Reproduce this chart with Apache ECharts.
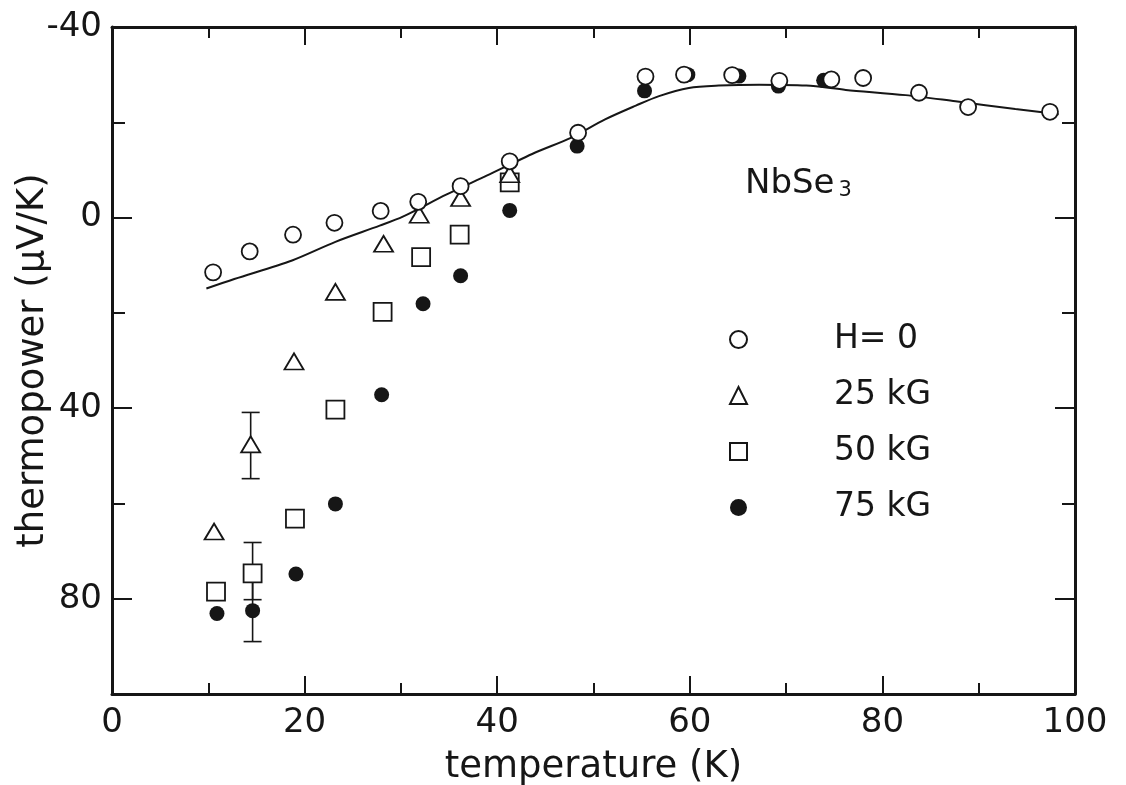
<!DOCTYPE html>
<html>
<head>
<meta charset="utf-8">
<script src="https://cdn.jsdelivr.net/npm/echarts@6/dist/echarts.min.js"></script>
<style>
html,body{margin:0;padding:0;background:#fff;}
#chart{width:1126px;height:785px;}
</style>
</head>
<body>
<div id="chart"></div>
<script>
// ---- data ----
const tempH0  = [10.5, 14.3, 18.8, 23.1, 27.9, 31.8, 36.2, 41.3, 48.4, 55.4, 59.4, 64.4, 69.3, 74.7, 78.0, 83.8, 88.9, 97.4];
const powH0   = [11.5, 7.1, 3.6, 1.1, -1.4, -3.3, -6.6, -11.8, -17.8, -29.6, -30.0, -29.9, -28.7, -29.0, -29.3, -26.2, -23.2, -22.2];
const temp25  = [10.6, 14.4, 18.9, 23.2, 28.2, 31.9, 36.2, 41.3];
const pow25   = [65.9, 47.6, 30.2, 15.6, 5.5, -0.6, -4.1, -9.1];
const temp50  = [10.8, 14.6, 19.0, 23.2, 28.1, 32.1, 36.1, 41.3];
const pow50   = [78.5, 74.7, 63.2, 40.3, 19.8, 8.3, 3.6, -7.4];
const temp75  = [10.9, 14.6, 19.1, 23.2, 28.0, 32.3, 36.2, 41.3, 48.3, 55.3, 59.8, 65.1, 69.2, 73.9];
const pow75   = [83.1, 82.5, 74.8, 60.1, 37.2, 18.1, 12.2, -1.5, -15.0, -26.6, -30.0, -29.7, -27.6, -28.8];
// error bars: [temperature, low, high]
const err25   = [[14.4, 40.9, 54.8]];
const err50   = [[14.6, 68.2, 80.2]];
const err75   = [[14.6, 76.0, 89.0]];
// fitted curve for H = 0
const fitT    = [9.8, 12.7, 18.7, 23.2, 27.8, 30.2, 34.7, 38.9, 43.9, 47.7, 51.2, 54.4, 56.8, 59.9, 63.0, 67.2, 72.1, 76.2, 82.4, 87.6, 93.8, 98.3];
const fitS    = [14.9, 12.9, 9.0, 5.1, 1.7, -0.2, -4.8, -8.8, -13.6, -16.8, -20.6, -23.5, -25.5, -27.2, -27.7, -27.9, -27.7, -26.8, -25.7, -24.4, -22.8, -21.7];
const seriesNames = ['H= 0', '25 kG', '50 kG', '75 kG'];
const xTitle = 'temperature (K)';
const yTitle = 'thermopower (μV/K)';
const sampleLabel = '{a|NbSe}{s|3}';

const zip = (a, b) => a.map((v, i) => [v, b[i]]);
const INK = '#161616';
const FONT = 'DejaVu Sans';

function errRender(params, api) {
  const x = api.value(0);
  const p1 = api.coord([x, api.value(1)]);
  const p2 = api.coord([x, api.value(2)]);
  const c = 9;
  const st = {stroke: INK, lineWidth: 1.6};
  return {type: 'group', children: [
    {type: 'line', shape: {x1: p1[0], y1: p1[1], x2: p2[0], y2: p2[1]}, style: st},
    {type: 'line', shape: {x1: p1[0] - c, y1: p1[1], x2: p1[0] + c, y2: p1[1]}, style: st},
    {type: 'line', shape: {x1: p2[0] - c, y1: p2[1], x2: p2[0] + c, y2: p2[1]}, style: st}
  ]};
}

const axisLine = {show: true, onZero: false, lineStyle: {color: INK, width: 3}};
const chart = echarts.init(document.getElementById('chart'), null, {renderer: 'canvas'});
chart.setOption({
  animation: false,
  backgroundColor: '#fff',
  grid: {left: 112, top: 27, width: 963, height: 667, containLabel: false, outerBoundsMode: 'none'},
  title: {
    text: sampleLabel, left: 740, top: 162,
    textStyle: {fontWeight: 'normal', rich: {
      a: {fontFamily: FONT, fontSize: 34, fontWeight: 'normal', color: INK, verticalAlign: 'bottom'},
      s: {fontFamily: FONT, fontSize: 21, fontWeight: 'normal', color: INK, verticalAlign: 'bottom', padding: [0, 0, 0, 4]}
    }}
  },
  legend: {
    orient: 'vertical', left: 724, top: 318,
    itemWidth: 17, itemHeight: 17, itemGap: 23,
    data: seriesNames,
    textStyle: {fontFamily: FONT, fontSize: 33, color: INK, padding: [0, 0, 8, 82]}
  },
  xAxis: [
    {type: 'value', min: 0, max: 100, interval: 20, position: 'bottom',
     name: xTitle, nameLocation: 'middle', nameGap: 55,
     nameTextStyle: {fontFamily: FONT, fontSize: 37, color: INK},
     axisLine: axisLine,
     axisTick: {show: true, inside: true, length: 18, lineStyle: {color: INK, width: 2}},
     minorTick: {show: true, splitNumber: 2, length: 11, lineStyle: {color: INK, width: 2}},
     axisLabel: {fontFamily: FONT, fontSize: 34, color: INK, margin: 12},
     splitLine: {show: false}, minorSplitLine: {show: false}},
    {type: 'value', min: 0, max: 100, interval: 20, position: 'top',
     axisLine: axisLine,
     axisTick: {show: true, inside: true, length: 18, lineStyle: {color: INK, width: 2}},
     minorTick: {show: true, splitNumber: 2, length: 11, lineStyle: {color: INK, width: 2}},
     axisLabel: {show: false}, splitLine: {show: false}, minorSplitLine: {show: false}}
  ],
  yAxis: [
    {type: 'value', min: -40, max: 100, interval: 20, inverse: true, position: 'left',
     name: yTitle, nameLocation: 'middle', nameGap: 60, nameRotate: 90, nameMoveOverlap: false,
     nameTextStyle: {fontFamily: FONT, fontSize: 37, color: INK},
     axisLine: axisLine,
     axisTick: {show: true, inside: true, length: 13, lineStyle: {color: INK, width: 2}},
     axisLabel: {fontFamily: FONT, fontSize: 34, color: INK, margin: 10,
       formatter: v => (v % 40 === 0 && v !== 100) ? String(v) : ''},
     splitLine: {show: false}},
    {type: 'value', min: -40, max: 100, interval: 40, inverse: true, position: 'left',
     axisLine: {show: false, onZero: false},
     axisTick: {show: true, inside: true, length: 20, lineStyle: {color: INK, width: 2}},
     axisLabel: {show: false}, splitLine: {show: false}},
    {type: 'value', min: -40, max: 100, interval: 20, inverse: true, position: 'right',
     axisLine: axisLine,
     axisTick: {show: true, inside: true, length: 13, lineStyle: {color: INK, width: 2}},
     axisLabel: {show: false}, splitLine: {show: false}},
    {type: 'value', min: -40, max: 100, interval: 40, inverse: true, position: 'right',
     axisLine: {show: false, onZero: false},
     axisTick: {show: true, inside: true, length: 20, lineStyle: {color: INK, width: 2}},
     axisLabel: {show: false}, splitLine: {show: false}}
  ],
  series: [
    {type: 'line', name: 'fit', data: zip(fitT, fitS), smooth: 0.3, showSymbol: false, z: 1,
     lineStyle: {color: INK, width: 2}, silent: true},
    {type: 'custom', name: 'err25', data: err25, renderItem: errRender, z: 2},
    {type: 'custom', name: 'err50', data: err50, renderItem: errRender, z: 2},
    {type: 'custom', name: 'err75', data: err75, renderItem: errRender, z: 2},
    {type: 'scatter', name: seriesNames[3], data: zip(temp75, pow75), symbol: 'circle', symbolSize: 15, z: 3,
     itemStyle: {color: INK, borderColor: INK, borderWidth: 0, opacity: 1}},
    {type: 'scatter', name: seriesNames[2], data: zip(temp50, pow50), symbol: 'rect', symbolSize: [18, 18], z: 4,
     itemStyle: {color: '#fff', borderColor: INK, borderWidth: 1.8, opacity: 1}},
    {type: 'scatter', name: seriesNames[1], data: zip(temp25, pow25), symbol: 'triangle', symbolSize: [19, 16], z: 5,
     itemStyle: {color: '#fff', borderColor: INK, borderWidth: 1.8, opacity: 1}},
    {type: 'scatter', name: seriesNames[0], data: zip(tempH0, powH0), symbol: 'circle', symbolSize: 16, z: 6,
     itemStyle: {color: '#fff', borderColor: INK, borderWidth: 1.8, opacity: 1}}
  ]
});
</script>
</body>
</html>
